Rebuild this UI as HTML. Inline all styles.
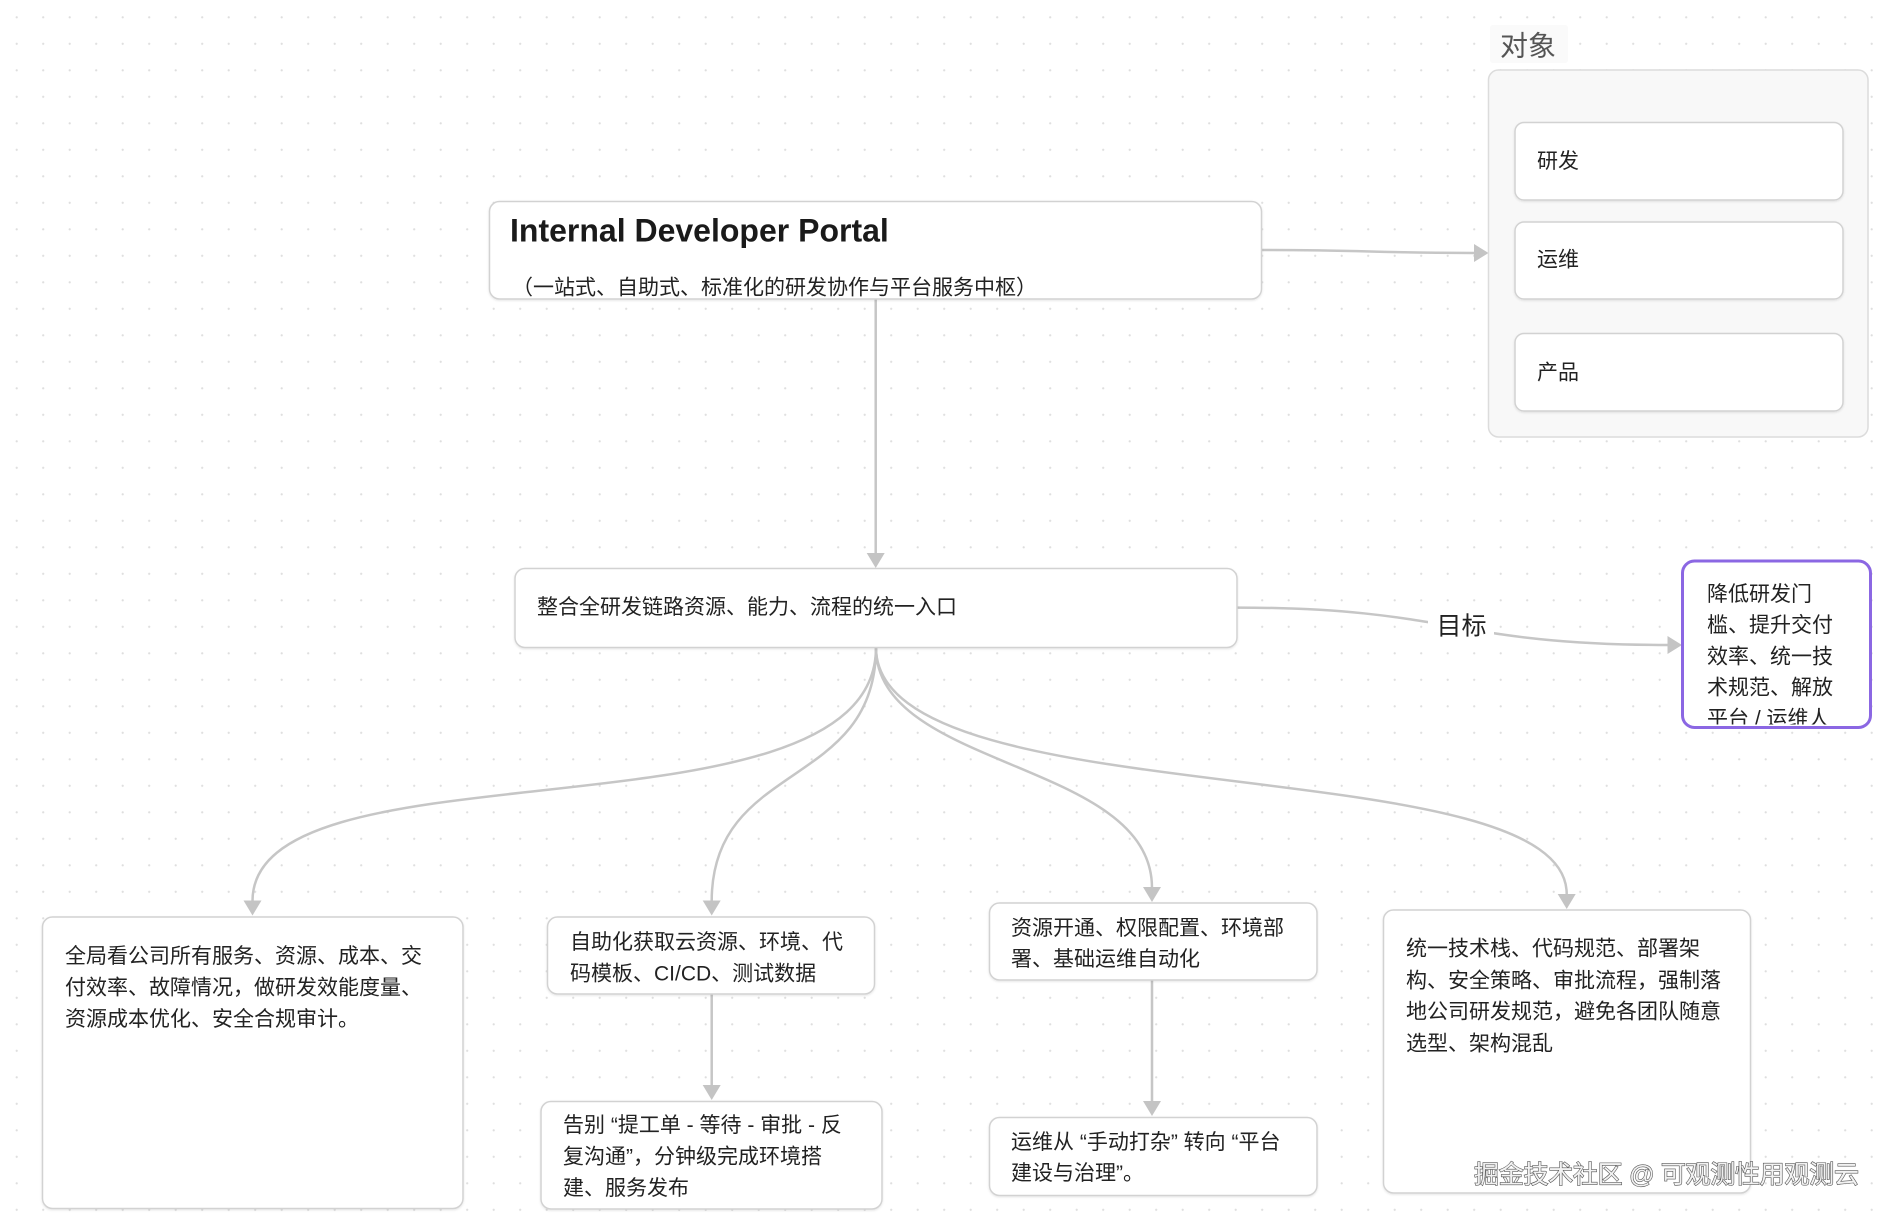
<!DOCTYPE html>
<html>
<head>
<meta charset="utf-8">
<style>
  html, body { margin:0; padding:0; background:#ffffff; }
  body { width:1890px; height:1219px; overflow:hidden; }
  svg { display:block; }
  .t { font-family:"Liberation Sans","Noto Sans CJK SC",sans-serif; fill:#222; }
</style>
</head>
<body>
<svg width="1890" height="1219" viewBox="0 0 1890 1219" xmlns="http://www.w3.org/2000/svg">
  <defs>
    <pattern id="dots" x="3.45" y="4.05" width="26.5" height="26.5" patternUnits="userSpaceOnUse">
      <circle cx="13.25" cy="13.25" r="1.1" fill="#dedede"/>
    </pattern>
    <filter id="sh" x="-5%" y="-5%" width="110%" height="115%">
      <feDropShadow dx="0" dy="1" stdDeviation="1" flood-color="#000" flood-opacity="0.10"/>
    </filter>
    <clipPath id="pclip">
      <rect x="1684" y="562.5" width="185" height="162"/>
    </clipPath>
  </defs>

  <rect x="0" y="0" width="1890" height="1219" fill="#ffffff"/>
  <rect x="0" y="0" width="1890" height="1219" fill="url(#dots)"/>

  <!-- connectors -->
  <g fill="none" stroke="#c6c6c6" stroke-width="2.5">
    <path d="M875.7 299 V553"/>
    <path d="M1262 250 C1360 250 1380 253 1474 253"/>
    <path d="M1237 607.6 C1452 607.6 1452 645 1668 645"/>
    <path d="M876 647.5 C876 850 252.5 735 252.5 901"/>
    <path d="M876 647.5 C876 790 711.7 760 711.7 901"/>
    <path d="M876 647.5 C876 770 1152 760 1152 888"/>
    <path d="M876 647.5 C876 820 1566.7 745 1566.7 894"/>
    <path d="M711.7 994 V1085"/>
    <path d="M1152 980 V1101"/>
  </g>
  <g fill="#c4c4c4">
    <polygon points="866.7,553 884.7,553 875.7,568"/>
    <polygon points="1474,244 1474,262 1488.5,253"/>
    <polygon points="1667.5,636 1667.5,654 1682,645"/>
    <polygon points="243.5,900.5 261.5,900.5 252.5,915.5"/>
    <polygon points="702.7,900.5 720.7,900.5 711.7,915.5"/>
    <polygon points="1143,887 1161,887 1152,902"/>
    <polygon points="1557.7,894 1575.7,894 1566.7,909"/>
    <polygon points="702.7,1085 720.7,1085 711.7,1100"/>
    <polygon points="1143,1101 1161,1101 1152,1116"/>
  </g>

  <!-- edge label 目标 -->
  <rect x="1428" y="610" width="66" height="32" fill="#ffffff"/>
  <text class="t" x="1436.5" y="634.5" font-size="25">目标</text>

  <!-- 对象 group -->
  <rect x="1490" y="25" width="78" height="38" rx="3" fill="#fafafa"/>
  <text class="t" x="1500" y="55.5" font-size="28" style="fill:#555">对象</text>
  <rect x="1488.5" y="70" width="379.5" height="367" rx="10" fill="#f8f8f8" stroke="#dcdcdc" stroke-width="1.5"/>

  <g fill="#ffffff" stroke="#d2d2d2" stroke-width="1.5" filter="url(#sh)">
    <rect x="1515" y="122.5" width="328" height="77.5" rx="9"/>
    <rect x="1515" y="222" width="328" height="77" rx="9"/>
    <rect x="1515" y="333.5" width="328" height="77.5" rx="9"/>

    <rect x="489.5" y="201.5" width="772" height="97.5" rx="10"/>
    <rect x="515" y="568.5" width="722" height="79" rx="10"/>
    <rect x="42.5" y="917" width="420.5" height="291.5" rx="10"/>
    <rect x="547.5" y="917" width="327" height="77" rx="10"/>
    <rect x="541" y="1101.5" width="341" height="107.5" rx="10"/>
    <rect x="989.5" y="903" width="327.5" height="77" rx="10"/>
    <rect x="989.5" y="1117.5" width="327.5" height="78" rx="10"/>
    <rect x="1383.5" y="910" width="367" height="283" rx="10"/>
  </g>

  <!-- purple goal box -->
  <rect x="1682.5" y="561" width="188" height="166.5" rx="12" fill="#ffffff" stroke="#8b67e3" stroke-width="3"/>

  <!-- texts -->
  <text class="t" x="1537" y="168" font-size="21">研发</text>
  <text class="t" x="1537" y="266.7" font-size="21">运维</text>
  <text class="t" x="1537" y="379.6" font-size="21">产品</text>

  <text class="t" x="510" y="241.7" font-size="32" font-weight="bold" style="fill:#1a1a1a">Internal Developer Portal</text>
  <text class="t" x="512" y="294.7" font-size="21">（一站式、自助式、标准化的研发协作与平台服务中枢）</text>

  <text class="t" x="537" y="614" font-size="21">整合全研发链路资源、能力、流程的统一入口</text>

  <g class="t" font-size="21">
    <text class="t" x="65" y="963">全局看公司所有服务、资源、成本、交</text>
    <text class="t" x="65" y="994.5">付效率、故障情况，做研发效能度量、</text>
    <text class="t" x="65" y="1026">资源成本优化、安全合规审计。</text>

    <text class="t" x="570" y="949">自助化获取云资源、环境、代</text>
    <text class="t" x="570" y="980.5">码模板、CI/CD、测试数据</text>

    <text class="t" x="563" y="1132">告别 “提工单 - 等待 - 审批 - 反</text>
    <text class="t" x="563" y="1163.5">复沟通”，分钟级完成环境搭</text>
    <text class="t" x="563" y="1195">建、服务发布</text>

    <text class="t" x="1011" y="935">资源开通、权限配置、环境部</text>
    <text class="t" x="1011" y="966">署、基础运维自动化</text>

    <text class="t" x="1011" y="1149">运维从 “手动打杂” 转向 “平台</text>
    <text class="t" x="1011" y="1180">建设与治理”。</text>

    <text class="t" x="1406" y="955.5">统一技术栈、代码规范、部署架</text>
    <text class="t" x="1406" y="987.5">构、安全策略、审批流程，强制落</text>
    <text class="t" x="1406" y="1018.6">地公司研发规范，避免各团队随意</text>
    <text class="t" x="1406" y="1050.6">选型、架构混乱</text>
  </g>

  <g clip-path="url(#pclip)" font-size="21">
    <text class="t" x="1707" y="601">降低研发门</text>
    <text class="t" x="1707" y="632">槛、提升交付</text>
    <text class="t" x="1707" y="663.4">效率、统一技</text>
    <text class="t" x="1707" y="694.6">术规范、解放</text>
    <text class="t" x="1707" y="725.5">平台 / 运维人</text>
  </g>

  <!-- watermark -->
  <text x="1474" y="1183" font-size="25" textLength="385" lengthAdjust="spacing"
        style="font-family:'Liberation Sans','Noto Sans CJK SC',sans-serif; fill:#f2f2f2; stroke:#555; stroke-width:1.2; paint-order:stroke;">掘金技术社区 @ 可观测性用观测云</text>
</svg>
</body>
</html>
